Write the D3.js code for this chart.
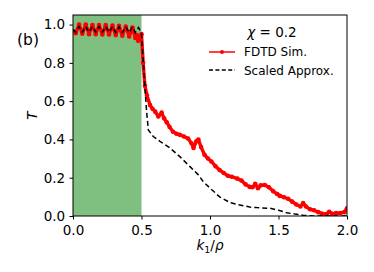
<!DOCTYPE html>
<html>
<head>
<meta charset="utf-8">
<script src="https://cdn.jsdelivr.net/npm/d3@7"></script>
<style>
  body { margin: 0; background: #fff; }
  svg { font-family: "DejaVu Sans", sans-serif; }
</style>
</head>
<body>
<div id="chart"></div>
<script>
// values
const simK = [0.000, 0.020, 0.044, 0.068, 0.093, 0.117, 0.142, 0.166, 0.190, 0.214, 0.239, 0.263, 0.288, 0.312, 0.336, 0.360, 0.385, 0.410, 0.434, 0.455, 0.466, 0.476, 0.490, 0.500, 0.512, 0.525, 0.540, 0.562, 0.580, 0.600, 0.623, 0.647, 0.665, 0.684, 0.705, 0.730, 0.755, 0.780, 0.810, 0.840, 0.865, 0.880, 0.900, 0.915, 0.935, 0.960, 0.985, 1.010, 1.040, 1.070, 1.100, 1.130, 1.160, 1.200, 1.230, 1.260, 1.290, 1.310, 1.330, 1.350, 1.370, 1.400, 1.430, 1.460, 1.490, 1.510, 1.540, 1.570, 1.600, 1.630, 1.660, 1.680, 1.700, 1.730, 1.760, 1.790, 1.820, 1.850, 1.870, 1.890, 1.920, 1.950, 1.980, 2.000];
const simT = [0.965, 0.955, 1.000, 0.952, 1.000, 0.950, 0.998, 0.950, 0.998, 0.948, 0.997, 0.948, 0.995, 0.945, 0.993, 0.942, 0.990, 0.938, 0.985, 0.930, 0.945, 0.915, 0.935, 0.950, 0.800, 0.680, 0.630, 0.580, 0.560, 0.545, 0.520, 0.540, 0.510, 0.490, 0.465, 0.440, 0.430, 0.424, 0.415, 0.405, 0.380, 0.355, 0.390, 0.400, 0.360, 0.320, 0.300, 0.285, 0.260, 0.240, 0.225, 0.210, 0.205, 0.195, 0.185, 0.165, 0.152, 0.150, 0.168, 0.145, 0.160, 0.162, 0.150, 0.130, 0.115, 0.105, 0.098, 0.090, 0.075, 0.060, 0.050, 0.068, 0.050, 0.035, 0.030, 0.020, 0.012, 0.010, 0.022, 0.012, 0.015, 0.015, 0.020, 0.040];

const apxK = [0.000, 0.020, 0.044, 0.068, 0.093, 0.117, 0.142, 0.166, 0.190, 0.214, 0.239, 0.263, 0.288, 0.312, 0.336, 0.360, 0.385, 0.410, 0.434, 0.455, 0.478, 0.495, 0.500, 0.525, 0.538, 0.550, 0.586, 0.635, 0.708, 0.780, 0.854, 0.915, 0.950, 1.000, 1.070, 1.146, 1.200, 1.290, 1.340, 1.440, 1.500, 1.560, 1.620, 1.680, 1.750, 2.000];
const apxT = [0.975, 0.960, 0.990, 0.960, 0.990, 0.960, 0.990, 0.960, 0.990, 0.960, 0.990, 0.960, 0.990, 0.958, 0.988, 0.958, 0.988, 0.958, 0.988, 0.958, 0.985, 0.960, 0.950, 0.670, 0.540, 0.450, 0.415, 0.390, 0.355, 0.310, 0.258, 0.215, 0.180, 0.146, 0.100, 0.070, 0.060, 0.047, 0.044, 0.040, 0.030, 0.017, 0.010, 0.004, 0.000, 0.000];

const shadeRange = [0, 0.5];
const xTicks = [0.0, 0.5, 1.0, 1.5, 2.0];
const yTicks = [0.0, 0.2, 0.4, 0.6, 0.8, 1.0];

const width = 374, height = 272;
const margin = {top: 15, right: 27, bottom: 56, left: 73};

const svg = d3.select("#chart").append("svg")
  .attr("width", width)
  .attr("height", height);

const x = d3.scaleLinear().domain([0, 2]).range([margin.left, width - margin.right]);
const y = d3.scaleLinear().domain([0, 1.05]).range([height - margin.bottom, margin.top]);

// green band
svg.append("rect")
  .attr("x", x(shadeRange[0]))
  .attr("y", y(1.05))
  .attr("width", x(shadeRange[1]) - x(shadeRange[0]))
  .attr("height", y(0) - y(1.05))
  .attr("fill", "#7fbf7f");

const line = d3.line().x(d => x(d[0])).y(d => y(d[1]));

svg.append("clipPath").attr("id", "clip")
  .append("rect")
  .attr("x", x(0)).attr("y", y(1.05))
  .attr("width", x(2) - x(0)).attr("height", y(0) - y(1.05));

const sim = d3.zip(simK, simT);
const apx = d3.zip(apxK, apxT);

const plot = svg.append("g").attr("clip-path", "url(#clip)");

plot.append("path")
  .datum(sim)
  .attr("d", line)
  .attr("fill", "none")
  .attr("stroke", "red")
  .attr("stroke-width", 3.4)
  .attr("stroke-linejoin", "round");

plot.selectAll(".dot")
  .data(sim)
  .enter().append("circle")
  .attr("class", "dot")
  .attr("cx", d => x(d[0]))
  .attr("cy", d => y(d[1]))
  .attr("r", 2.3)
  .attr("fill", "red");

plot.append("path")
  .datum(apx)
  .attr("d", line)
  .attr("fill", "none")
  .attr("stroke", "black")
  .attr("stroke-width", 1.5)
  .attr("stroke-dasharray", "5,3");

// axes
const xAxis = svg.append("g")
  .attr("transform", `translate(0,${y(0)})`)
  .call(d3.axisBottom(x).tickValues(xTicks).tickFormat(d3.format(".1f")).tickSizeOuter(0).tickSize(3.5));
const yAxis = svg.append("g")
  .attr("transform", `translate(${x(0)},0)`)
  .call(d3.axisLeft(y).tickValues(yTicks).tickFormat(d3.format(".1f")).tickSizeOuter(0).tickSize(3.5));

[xAxis, yAxis].forEach(g => {
  g.select(".domain").remove();
  g.selectAll("text").attr("font-size", 13.5).attr("fill", "#000").attr("font-family", "DejaVu Sans");
  g.selectAll("line").attr("stroke", "#000");
});
xAxis.selectAll("text").attr("dy", "0.95em");
yAxis.selectAll("text").attr("dx", "-0.1em");

// frame
svg.append("rect")
  .attr("x", x(0)).attr("y", y(1.05))
  .attr("width", x(2) - x(0)).attr("height", y(0) - y(1.05))
  .attr("fill", "none")
  .attr("stroke", "#000")
  .attr("stroke-width", 1);

// labels
svg.append("text")
  .attr("x", 17).attr("y", 45)
  .attr("font-size", 15.5)
  .text("(b)");

svg.append("text")
  .attr("transform", `translate(37,${(y(0) + y(1.05)) / 2}) rotate(-90)`)
  .attr("text-anchor", "middle")
  .attr("font-size", 13.5)
  .attr("font-style", "italic")
  .text("T");

const xl = svg.append("text")
  .attr("x", 210).attr("y", 250)
  .attr("text-anchor", "middle")
  .attr("font-size", 13.5);
xl.append("tspan").attr("font-style", "italic").text("k");
xl.append("tspan").attr("font-size", 9.5).attr("dy", 3).text("1");
xl.append("tspan").attr("dy", -3).text("/");
xl.append("tspan").attr("font-style", "italic").text("ρ");

// legend
const chi = svg.append("text")
  .attr("x", 272).attr("y", 37)
  .attr("text-anchor", "middle")
  .attr("font-size", 13.5);
chi.append("tspan").attr("font-style", "italic").text("χ");
chi.append("tspan").text(" = 0.2");

svg.append("line")
  .attr("x1", 209).attr("x2", 235).attr("y1", 52).attr("y2", 52)
  .attr("stroke", "red").attr("stroke-width", 1.5);
svg.append("circle")
  .attr("cx", 222).attr("cy", 52).attr("r", 2).attr("fill", "red");
svg.append("text")
  .attr("x", 244).attr("y", 56)
  .attr("font-size", 12)
  .text("FDTD Sim.");

svg.append("line")
  .attr("x1", 209).attr("x2", 235).attr("y1", 70).attr("y2", 70)
  .attr("stroke", "black").attr("stroke-width", 1.5)
  .attr("stroke-dasharray", "4,2.4");
svg.append("text")
  .attr("x", 244).attr("y", 74.5)
  .attr("font-size", 12)
  .text("Scaled Approx.");
</script>
</body>
</html>
